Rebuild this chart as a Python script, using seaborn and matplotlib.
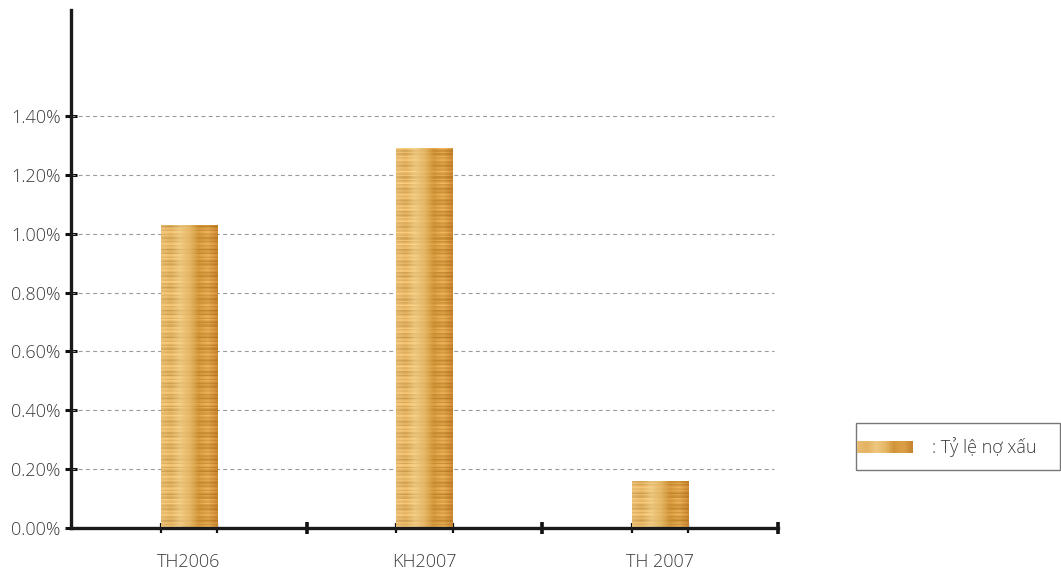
import numpy as np
import pandas as pd
import matplotlib
matplotlib.use("Agg")
import matplotlib.pyplot as plt
import seaborn as sns
from matplotlib.patches import Rectangle
from matplotlib.legend_handler import HandlerBase
from matplotlib.ticker import FixedLocator, FuncFormatter

# Non-performing loan ratio (%)
categories = ["TH2006", "KH2007", "TH 2007"]
npl_ratio = [1.03, 1.29, 0.16]
y_ticks = [0.0, 0.2, 0.4, 0.6, 0.8, 1.0, 1.2, 1.4]
legend_label = ": Tỷ lệ nợ xấu"

sns.set_theme(style="white")
plt.rcParams["font.family"] = ["Open Sans", "DejaVu Sans"]
FS = 13
TXT = "#3c3c3c"
W = "light"

df = pd.DataFrame({"category": categories, "ratio": npl_ratio})

fig = plt.figure(figsize=(10.61, 5.76), dpi=100)
ax = fig.add_axes([0.0669, 0.0833, 0.6664, 0.8993])

bar_width = 0.24
sns.barplot(data=df, x="category", y="ratio", ax=ax, width=bar_width,
            color="#d9a84e", edgecolor="none", zorder=3)

# Golden coin-stack texture: horizontal shading with fine horizontal streaks
cols = np.array([
    [0.91, 0.74, 0.45],
    [0.89, 0.70, 0.38],
    [0.93, 0.78, 0.50],
    [0.90, 0.72, 0.40],
    [0.82, 0.58, 0.22],
    [0.86, 0.63, 0.28],
    [0.78, 0.52, 0.18],
])
nx, ny = 60, 400
xs = np.linspace(0, 1, nx)
pos = np.linspace(0, 1, len(cols))
base = np.stack([np.interp(xs, pos, cols[:, c]) for c in range(3)], axis=-1)
rows = np.arange(ny)
streak = (0.06 * np.sin(rows * 1.7) + 0.04 * np.sin(rows * 0.53 + 1.0)
          + 0.03 * np.sin(rows * 3.1 + 0.4))
tex = base[None, :, :] + streak[:, None, None] * (0.6 + 0.4 * np.sin(xs * 9.0 + 0.3))[None, :, None]
tex = np.clip(tex, 0, 1)

for p in list(ax.patches):
    x0, y0 = p.get_x(), p.get_y()
    w, h = p.get_width(), p.get_height()
    n_rows = max(4, int(ny * h / 1.4))
    im = ax.imshow(tex[:n_rows], extent=(x0, x0 + w, y0, y0 + h),
                   aspect="auto", origin="lower", zorder=3,
                   interpolation="bilinear")
    im.set_clip_path(p)
    p.set_facecolor("none")

ax.set_xlim(-0.5, 2.5)
ax.set_ylim(0, 1.76)

# Grid
for v in y_ticks[1:]:
    ax.axhline(v, xmin=0, xmax=0.995, color="#9a9a9a", lw=0.8,
               ls=(0, (3.5, 3)), zorder=1)

# Axes styling
for s in ["top", "right"]:
    ax.spines[s].set_visible(False)
for s in ["left", "bottom"]:
    ax.spines[s].set_linewidth(2.4)
    ax.spines[s].set_color("#1a1a1a")
    ax.spines[s].set_zorder(5)

ax.yaxis.set_major_locator(FixedLocator(y_ticks))
ax.yaxis.set_major_formatter(FuncFormatter(lambda v, _: f"{v:.2f}%"))
ax.tick_params(axis="y", left=True, direction="inout", length=9, width=2.2,
               color="#111111", labelsize=FS, labelcolor=TXT, pad=3)
for t in ax.get_yticklabels():
    t.set_fontweight(W)

ax.xaxis.set_major_locator(FixedLocator([0.5, 1.5, 2.5]))
ax.xaxis.set_major_formatter(FuncFormatter(lambda v, _: ""))
edges = []
for i in range(len(categories)):
    edges += [i - bar_width / 2, i + bar_width / 2]
ax.xaxis.set_minor_locator(FixedLocator(edges))
ax.tick_params(axis="x", which="major", bottom=True, direction="inout",
               length=9, width=2.6, color="#111111")
ax.tick_params(axis="x", which="minor", bottom=True, direction="inout",
               length=7, width=1.6, color="#111111")
for i, c in enumerate(categories):
    ax.text(i, -0.085, c, ha="center", va="top", fontsize=FS,
            color=TXT, fontweight=W, transform=ax.transData)
ax.set_xlabel("")
ax.set_ylabel("")


class GoldHandler(HandlerBase):
    def create_artists(self, legend, orig_handle, xdescent, ydescent,
                       width, height, fontsize, trans):
        arts = []
        n = 28
        hh = height * 0.95
        y0 = -ydescent + (height - hh) / 2
        for k in range(n):
            t = k / (n - 1)
            c = [np.interp(t, pos, cols[:, j]) for j in range(3)]
            r = Rectangle((-xdescent + width * k / n, y0), width / n + 0.3, hh,
                          facecolor=c, edgecolor="none", transform=trans)
            arts.append(r)
        return arts


handle = Rectangle((0, 0), 1, 1)
leg = fig.legend([handle], [legend_label], handler_map={Rectangle: GoldHandler()},
                 loc="center left", bbox_to_anchor=(857 / 1061, 1 - 447 / 576),
                 frameon=False, fontsize=FS, handlelength=3.1,
                 handletextpad=1.05, borderpad=0, borderaxespad=0)
for t in leg.get_texts():
    t.set_color(TXT)
    t.set_fontweight(W)

# Legend box outline
fig.add_artist(Rectangle((856 / 1061, 1 - 470 / 576), 204 / 1061, 47 / 576,
                         transform=fig.transFigure, facecolor="none",
                         edgecolor="#777777", lw=1.0))

fig.savefig("out.png", dpi=100, facecolor="white")
